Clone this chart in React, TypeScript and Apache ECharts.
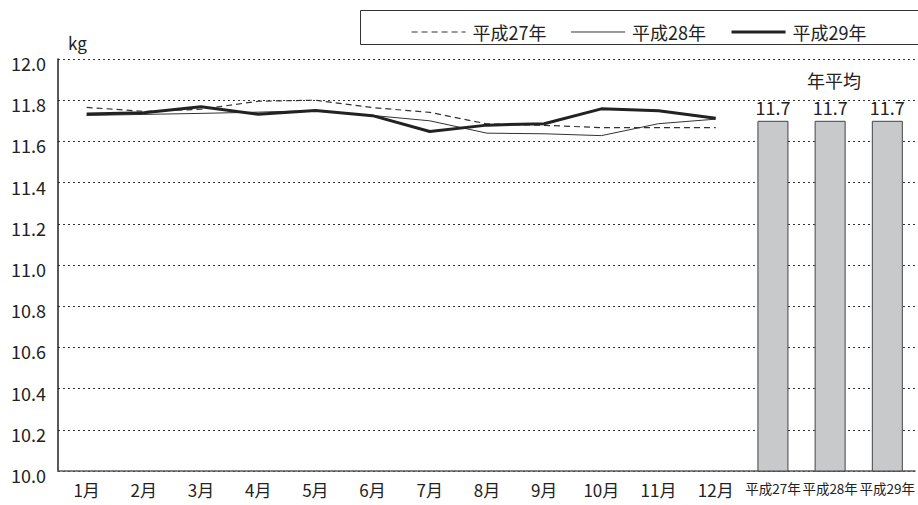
import React, { useEffect, useRef } from "react";
import * as echarts from "echarts";

const months = ["1月", "2月", "3月", "4月", "5月", "6月", "7月", "8月", "9月", "10月", "11月", "12月"];
const avgCategories = ["平成27年", "平成28年", "平成29年"];
const seriesNames = ["平成27年", "平成28年", "平成29年"];
const h27 = [11.765, 11.746, 11.756, 11.795, 11.8, 11.764, 11.741, 11.685, 11.678, 11.667, 11.667, 11.667];
const h28 = [11.726, 11.731, 11.736, 11.742, 11.75, 11.726, 11.7, 11.64, 11.637, 11.628, 11.686, 11.708];
const h29 = [11.733, 11.739, 11.768, 11.732, 11.75, 11.725, 11.648, 11.679, 11.686, 11.758, 11.749, 11.712];
const annualAvg = [11.7, 11.7, 11.7];
const yTicks = { min: 10.0, max: 12.0, step: 0.2 };

const FONT = "'Noto Sans CJK JP', 'Noto Sans', sans-serif";

export default function App() {
  const ref = useRef<HTMLDivElement>(null);
  useEffect(() => {
    if (!ref.current) return;
    const chart = echarts.init(ref.current, undefined, { renderer: "svg" });
    const categories = [...months, ...avgCategories];
    const barData = [...months.map(() => "-"), ...annualAvg];
    const lineStyles: any[] = [
      { color: "#333", width: 1.2, type: [6, 4] },
      { color: "#333", width: 1 },
      { color: "#222", width: 3 },
    ];
    const option: any = {
      animation: false,
      backgroundColor: "#ffffff",
      textStyle: { fontFamily: FONT },
      grid: { left: 58, right: 0, top: 59, bottom: 34, containLabel: false },
      legend: {
        data: seriesNames.map((n, i) => ({ name: n, lineStyle: { width: lineStyles[i].width } })),
        left: 406,
        top: 18,
        itemWidth: 54,
        itemHeight: 18,
        itemGap: 24,
        itemStyle: { opacity: 0 },
        textStyle: { fontSize: 18, color: "#222", fontFamily: FONT, padding: [0, 0, 0, 2] },
      },
      xAxis: {
        type: "category",
        data: categories,
        boundaryGap: true,
        axisTick: { show: false },
        axisLine: { lineStyle: { color: "#555", width: 1.5, type: [2, 1] } },
        axisLabel: {
          interval: 0,
          fontSize: 17,
          color: "#222",
          margin: 10,
          fontFamily: FONT,
          formatter: (v: string) => (v.startsWith("平成") ? `{s|${v}}` : v),
          rich: { s: { fontSize: 13.5, color: "#222", fontFamily: FONT } },
        },
      },
      yAxis: {
        type: "value",
        min: yTicks.min,
        max: yTicks.max,
        interval: yTicks.step,
        name: "kg",
        nameLocation: "end",
        nameGap: 8,
        nameTextStyle: { fontSize: 17, color: "#222", align: "left", padding: [0, 0, 0, 10], fontFamily: FONT },
        axisLine: { show: true, lineStyle: { color: "#222", width: 1.5 } },
        axisTick: { show: false },
        axisLabel: {
          color: "#222",
          margin: 12,
          formatter: (v: number) => `{n|${v.toFixed(1)}}`,
          rich: { n: { fontSize: 18, color: "#222", fontFamily: FONT, padding: [8, 0, 0, 0] } },
        },
        splitLine: { show: true, lineStyle: { color: "#333", width: 1, type: [2, 3] } },
      },
      series: [
        {
          name: seriesNames[0],
          type: "line",
          data: h27,
          symbol: "none",
          lineStyle: lineStyles[0],
          itemStyle: { color: "#333" },
          z: 3,
        },
        {
          name: seriesNames[1],
          type: "line",
          data: h28,
          symbol: "none",
          lineStyle: lineStyles[1],
          itemStyle: { color: "#333" },
          z: 3,
        },
        {
          name: seriesNames[2],
          type: "line",
          data: h29,
          symbol: "none",
          lineStyle: lineStyles[2],
          itemStyle: { color: "#222" },
          z: 4,
        },
        {
          name: "年平均",
          type: "bar",
          data: barData,
          barWidth: 31,
          itemStyle: { color: "#c8c9ca", borderColor: "#444", borderWidth: 1 },
          label: {
            show: true,
            position: "top",
            distance: 5,
            fontSize: 18,
            color: "#222",
            fontFamily: FONT,
            formatter: (p: any) => Number(p.value).toFixed(1),
          },
          z: 2,
        },
      ],
      graphic: [
        {
          type: "rect",
          shape: { x: 360.5, y: 10.5, width: 600, height: 34 },
          style: { fill: "none", stroke: "#333", lineWidth: 1 },
          z: 0,
        },
        {
          type: "text",
          x: 834,
          y: 80,
          style: {
            text: "年平均",
            fontSize: 18,
            fill: "#222",
            fontFamily: FONT,
            align: "center",
            verticalAlign: "middle",
          },
        },
      ],
    };
    chart.setOption(option);
    return () => chart.dispose();
  }, []);
  return (
    <div
      ref={ref}
      style={{ position: "fixed", left: 0, top: 0, width: 918, height: 505, background: "#fff" }}
    />
  );
}
